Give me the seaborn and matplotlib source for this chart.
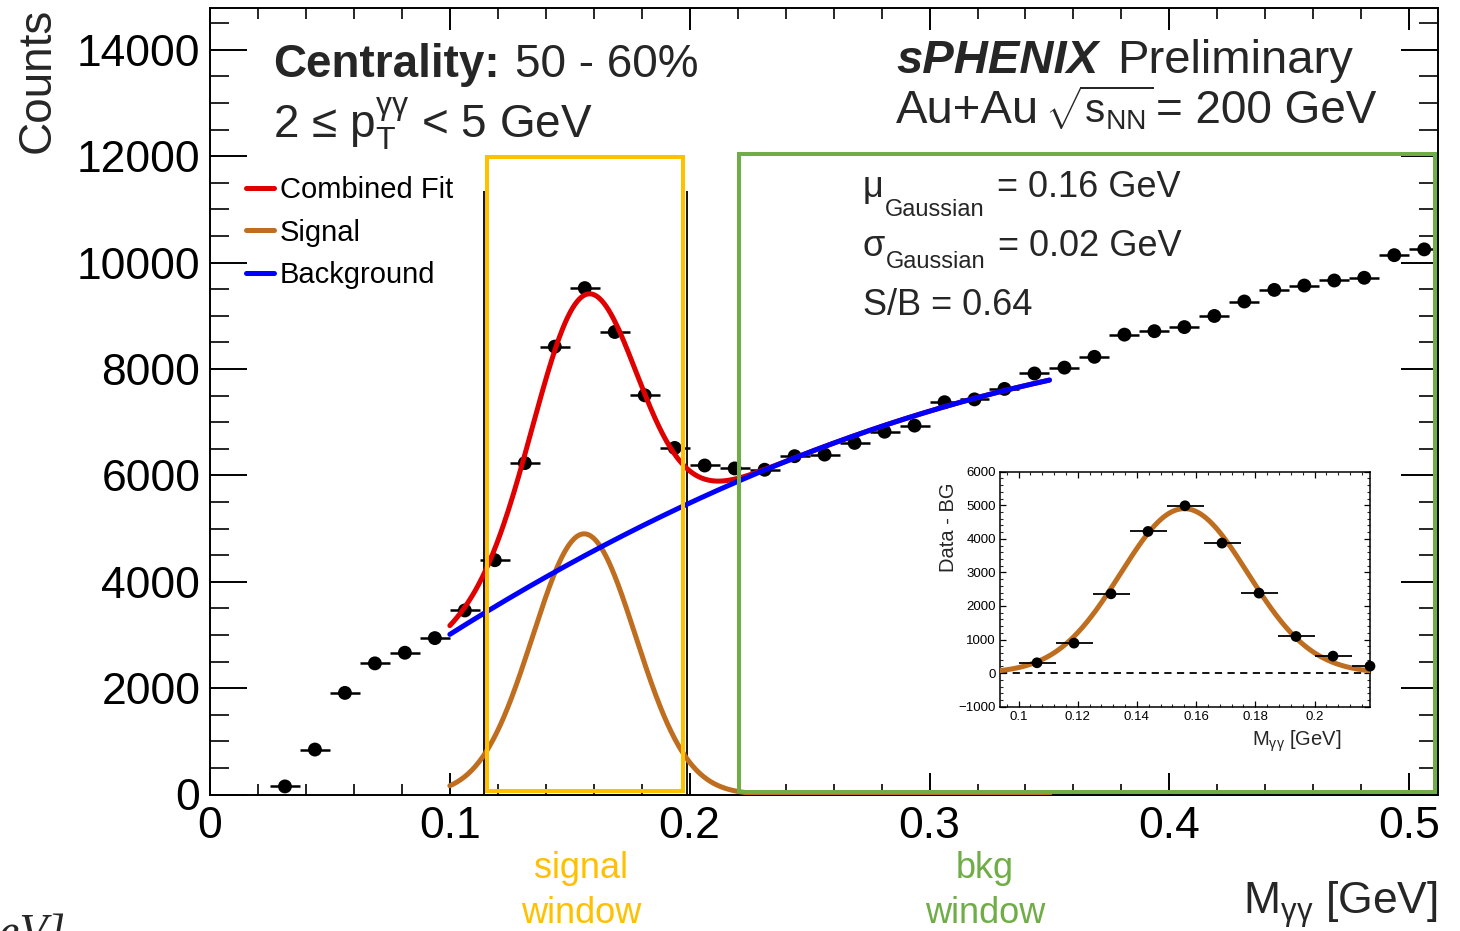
import numpy as np
import pandas as pd
import matplotlib
matplotlib.use("Agg")
import matplotlib.pyplot as plt
import seaborn as sns
from matplotlib.patches import Rectangle
from matplotlib.ticker import MultipleLocator

# ---------------- data ----------------
mass_gev = [0.03125, 0.04375, 0.05625, 0.06875, 0.08125, 0.09375, 0.10625, 0.11875,
            0.13125, 0.14375, 0.15625, 0.16875, 0.18125, 0.19375, 0.20625, 0.21875,
            0.23125, 0.24375, 0.25625, 0.26875, 0.28125, 0.29375, 0.30625, 0.31875,
            0.33125, 0.34375, 0.35625, 0.36875, 0.38125, 0.39375, 0.40625, 0.41875,
            0.43125, 0.44375, 0.45625, 0.46875, 0.48125, 0.49375, 0.50625]
counts = [152, 845, 1910, 2465, 2665, 2940, 3460, 4405, 6230, 8420, 9520, 8695,
          7505, 6515, 6185, 6130, 6105, 6360, 6390, 6610, 6820, 6935, 7375, 7428,
          7625, 7915, 8025, 8228, 8645, 8710, 8787, 8996, 9268, 9486, 9568, 9663,
          9714, 10139, 10248]
bin_half_width = 0.00625

inset_mass = [0.10625, 0.11875, 0.13125, 0.14375, 0.15625, 0.16875, 0.18125,
              0.19375, 0.20625, 0.21875]
inset_diff = [308, 894, 2363, 4220, 4985, 3873, 2383, 1092, 506, 208]

# fit parameters (Gaussian signal + pol2 background in (M - 0.1))
signal_amp = 4900
signal_mu = 0.156
signal_sigma = 0.0215
bkg_coef = [3010, 28418, -37183]
bkg_x0 = 0.1
fit_range = [0.1, 0.35]

x_ticks = [0, 0.1, 0.2, 0.3, 0.4, 0.5]
x_tick_labels = ["0", "0.1", "0.2", "0.3", "0.4", "0.5"]
y_ticks = [0, 2000, 4000, 6000, 8000, 10000, 12000, 14000]
y_tick_labels = ["0", "2000", "4000", "6000", "8000", "10000", "12000", "14000"]
inset_x_ticks = [0.1, 0.12, 0.14, 0.16, 0.18, 0.2]
inset_x_tick_labels = ["0.1", "0.12", "0.14", "0.16", "0.18", "0.2"]
inset_y_ticks = [-1000, 0, 1000, 2000, 3000, 4000, 5000, 6000]
inset_y_tick_labels = ["\u22121000", "0", "1000", "2000", "3000", "4000", "5000", "6000"]

legend_labels = ["Combined Fit", "Signal", "Background"]

# ---------------- style ----------------
RED = "#E00000"
BLUE = "#0000FF"
BROWN = "#BE6E1E"
GOLD = "#FFC000"
GREEN = "#70AD47"

sns.set_theme(style="ticks")
plt.rcParams.update({
    "font.family": ["Liberation Sans", "DejaVu Sans"],
    "mathtext.fontset": "custom",
    "mathtext.rm": "Liberation Sans",
    "mathtext.it": "Liberation Sans:italic",
    "mathtext.bf": "Liberation Sans:bold",
    "mathtext.sf": "Liberation Sans",
    "axes.linewidth": 1.4,
    "axes.edgecolor": "black",
    "axes.facecolor": "white",
    "figure.facecolor": "white",
})

W, H = 1460, 931
fig = plt.figure(figsize=(W / 100, H / 100), dpi=100)


def fx(px):
    return px / W


def fy(py):
    return 1 - py / H


def put(x_px, base_px, s, **kw):
    return fig.text(fx(x_px), fy(base_px), s, ha="left", va="baseline", **kw)


# ---------------- main axes ----------------
ax = fig.add_axes([fx(210), fy(794.5), (1438 - 210) / W, (794.5 - 8.3) / H])
ax.set_xlim(0, 0.512)
ax.set_ylim(0, 14780)

df = pd.DataFrame({"mass": mass_gev, "counts": counts})
ax.errorbar(df["mass"], df["counts"], xerr=bin_half_width, fmt="none",
            ecolor="black", elinewidth=1.8, capsize=0, zorder=3)
sns.scatterplot(data=df, x="mass", y="counts", ax=ax, color="black", s=100,
                edgecolor="none", zorder=4, legend=False)

xf = np.linspace(fit_range[0], fit_range[1], 500)
sig = signal_amp * np.exp(-0.5 * ((xf - signal_mu) / signal_sigma) ** 2)
bkg = bkg_coef[0] + bkg_coef[1] * (xf - bkg_x0) + bkg_coef[2] * (xf - bkg_x0) ** 2
fit = pd.DataFrame({"x": xf, "comb": sig + bkg, "sig": sig, "bkg": bkg})

sns.lineplot(data=fit, x="x", y="comb", ax=ax, color=RED, lw=3.6, zorder=5,
             errorbar=None)
h_comb = ax.get_lines()[-1]
sns.lineplot(data=fit, x="x", y="sig", ax=ax, color=BROWN, lw=3.6, zorder=5,
             errorbar=None)
h_sig = ax.get_lines()[-1]
sns.lineplot(data=fit, x="x", y="bkg", ax=ax, color=BLUE, lw=3.6, zorder=6,
             errorbar=None)
h_bkg = ax.get_lines()[-1]

ax.set_xlabel("")
ax.set_ylabel("")
ax.set_xticks(x_ticks)
ax.set_xticklabels(x_tick_labels)
ax.set_yticks(y_ticks)
ax.set_yticklabels(y_tick_labels)
ax.xaxis.set_minor_locator(MultipleLocator(0.02))
ax.yaxis.set_minor_locator(MultipleLocator(500))
ax.tick_params(axis="x", which="major", direction="in", length=15.8, width=1.4,
               top=True, bottom=True, labelsize=32, pad=8, colors="black")
ax.tick_params(axis="x", which="minor", direction="in", length=7.9, width=1.4,
               top=True, bottom=True)
ax.tick_params(axis="y", which="major", direction="in", length=26.6, width=1.4,
               left=True, right=True, labelsize=32, pad=7, colors="black")
ax.tick_params(axis="y", which="minor", direction="in", length=13.7, width=1.4,
               left=True, right=True)
for s in ax.spines.values():
    s.set_visible(True)
    s.set_color("black")
    s.set_linewidth(1.4)

# window boxes and marker lines
ax.add_patch(Rectangle((0.1157, 75), 0.1973 - 0.1157, 11990 - 75, fill=False,
                       ec=GOLD, lw=2.9, zorder=10, clip_on=False))
ax.add_patch(Rectangle((0.2205, 53), 0.5106 - 0.2205, 12040 - 53, fill=False,
                       ec=GREEN, lw=2.9, zorder=10, clip_on=False))
ax.vlines([0.1142, 0.199], 0, 11350, colors="black", lw=1.3, zorder=2)

# legend
leg = ax.legend([h_comb, h_sig, h_bkg], legend_labels, loc="upper left",
                bbox_to_anchor=(fx(246), fy(176)), bbox_transform=fig.transFigure,
                frameon=False, fontsize=21, handlelength=0.95, handletextpad=0.2,
                labelspacing=0.5, borderpad=0, borderaxespad=0)
for t in leg.get_texts():
    t.set_color("black")

# ---------------- texts ----------------
fig.text(fx(38), fy(8), "Counts", rotation=90, ha="center", va="top", fontsize=33)
fig.text(fx(1438), fy(914), r"M$_{\mathrm{\gamma\gamma}}$ [GeV]", ha="right",
         va="baseline", fontsize=32)

put(273, 77, "Centrality:", fontsize=33, fontweight="bold")
put(515, 77, "50 - 60%", fontsize=33)
put(273, 137, r"2 ≤ p$_{\mathrm{T}}^{\mathrm{\gamma\gamma}}$ < 5 GeV", fontsize=33)

put(896, 73, "sPHENIX", fontsize=34, fontweight="bold", style="italic")
put(1117, 73, "Preliminary", fontsize=34)
put(896, 123, "Au+Au", fontsize=34)
put(1045, 123, r"$\sqrt{\mathrm{s}_{\mathrm{NN}}}$", fontsize=29)
put(1156, 123, "= 200 GeV", fontsize=33)

put(863, 197, "\u03bc", fontsize=26)
put(885, 216, "Gaussian", fontsize=17)
put(997, 197, "= 0.16 GeV", fontsize=26)
put(863, 256, "\u03c3", fontsize=26)
put(886, 268, "Gaussian", fontsize=17)
put(998, 256, "= 0.02 GeV", fontsize=26)
put(863, 315, "S/B = 0.64", fontsize=26)

fig.text(fx(581), fy(878), "signal", ha="center", va="baseline", fontsize=26, color=GOLD)
fig.text(fx(581), fy(923), "window", ha="center", va="baseline", fontsize=26, color=GOLD)
fig.text(fx(985), fy(878), "bkg", ha="center", va="baseline", fontsize=26, color=GREEN)
fig.text(fx(985), fy(923), "window", ha="center", va="baseline", fontsize=26, color=GREEN)

# cropped caption fragment at lower-left edge (cut off in the reference too)
fig.text(fx(66), fy(946), "[GeV]", ha="right", va="baseline", fontsize=33,
         family="Liberation Serif", style="italic")

# ---------------- inset ----------------
axi = fig.add_axes([fx(1000), fy(706.7), 370 / W, 235 / H])
axi.set_xlim(0.09375, 0.21875)
axi.set_ylim(-1000, 6000)
axi.axhline(0, color="black", lw=1.3, ls=(0, (4, 3)), zorder=1)

xi = np.linspace(0.09375, 0.21875, 400)
fit_in = pd.DataFrame({"x": xi,
                       "sig": signal_amp * np.exp(-0.5 * ((xi - signal_mu) / signal_sigma) ** 2)})
sns.lineplot(data=fit_in, x="x", y="sig", ax=axi, color=BROWN, lw=3.6, zorder=3,
             errorbar=None)
dfi = pd.DataFrame({"mass": inset_mass, "diff": inset_diff})
axi.errorbar(dfi["mass"], dfi["diff"], xerr=bin_half_width, fmt="none",
             ecolor="black", elinewidth=1.3, capsize=0, zorder=4)
sns.scatterplot(data=dfi, x="mass", y="diff", ax=axi, color="black", s=60,
                edgecolor="none", zorder=5, legend=False, clip_on=False)
axi.set_xlabel("")
axi.set_ylabel("")
axi.set_xticks(inset_x_ticks)
axi.set_xticklabels(inset_x_tick_labels)
axi.set_yticks(inset_y_ticks)
axi.set_yticklabels(inset_y_tick_labels)
axi.xaxis.set_minor_locator(MultipleLocator(0.004))
axi.yaxis.set_minor_locator(MultipleLocator(200))
axi.tick_params(which="major", direction="in", length=4.5, width=0.9, top=True,
                right=True, labelsize=9.5, pad=3, colors="black")
axi.tick_params(which="minor", direction="in", length=2.3, width=0.8, top=True,
                right=True)
for s in axi.spines.values():
    s.set_visible(True)
    s.set_color("black")
    s.set_linewidth(1.1)

fig.text(fx(948), fy(483), "Data - BG", rotation=90, ha="center", va="top", fontsize=14.5)
fig.text(fx(1341), fy(746), r"M$_{\mathrm{\gamma\gamma}}$ [GeV]", ha="right",
         va="baseline", fontsize=14.5)

fig.savefig("out.png", dpi=100)
